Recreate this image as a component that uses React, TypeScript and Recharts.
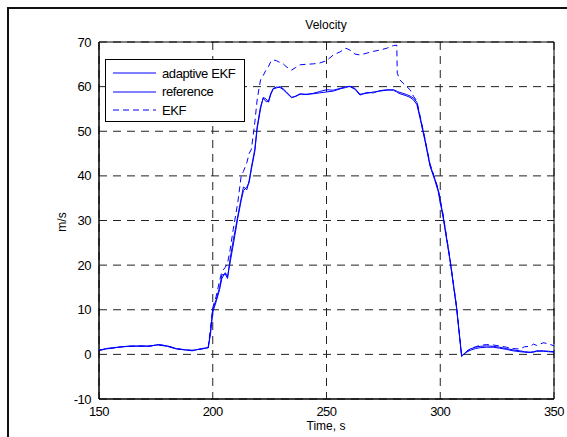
import React from 'react'
import {
  LineChart, Line, XAxis, YAxis, CartesianGrid, ReferenceArea,
} from 'recharts'

const time = [
  150, 153, 156, 160, 164, 168, 172, 176, 180, 184, 188, 191, 195, 198, 199, 200,
  201.5, 203, 204, 205.5, 206.5, 207.5, 209, 211, 212.5, 213.5, 215, 216, 217, 218.5,
  219.5, 221, 222.2, 223.5, 224.5, 225.5, 226.6, 228, 229.6, 231, 232.2, 234.7, 236.5,
  238.4, 241, 244.2, 247, 250, 253, 256, 258.5, 260.3, 262.5, 264.7, 267.7, 270.6,
  273.5, 276.5, 279.4, 280.9, 281.1, 282.3, 283.6, 285.3, 286.7, 288.3, 289.7, 291.1,
  293.3, 295.5, 297.5, 299.1, 301.3, 304.3, 307.2, 309.4, 311.6, 313.1, 315.5, 317.5,
  320.4, 323.3, 326, 329.2, 332, 335, 337, 339.5, 341, 342.4, 345.3, 347.5, 350,
]

const referenceVel = [
  0.9, 1.2, 1.4, 1.7, 1.8, 1.9, 1.8, 2.2, 1.9, 1.3, 1.0, 0.9, 1.2, 1.5, 4.5, 9.5,
  11.8, 14.5, 17.0, 18.3, 17.4, 20.2, 24.5, 30.5, 34.5, 36.7, 37.5, 38.5, 41.5, 45.5,
  50.5, 55.0, 57.6, 57.2, 56.5, 58.2, 59.5, 59.7, 60.0, 59.5, 58.9, 57.6, 57.8,
  58.3, 58.3, 58.4, 58.6, 58.8, 59.0, 59.5, 59.8, 60.1, 59.6, 58.3, 58.5, 58.8,
  59.0, 59.2, 59.3, 59.0, 58.9, 58.7, 58.5, 58.2, 57.9, 57.4, 56.5, 53.3,
  48.1, 42.5, 39.5, 36.9, 31.0, 21.2, 10.5, -0.3, 0.5, 0.9, 1.3, 1.5,
  1.6, 1.6, 1.4, 1.1, 0.8, 0.6, 0.5, 0.4, 0.5, 0.7, 0.7, 0.6, 0.5,
]

const adaptiveVel = [
  0.9, 1.3, 1.5, 1.7, 1.9, 1.8, 1.9, 2.1, 1.8, 1.2, 1.0, 0.8, 1.3, 1.5, 5.0, 10.0,
  12.3, 15.0, 17.8, 18.0, 17.0, 21.0, 25.5, 31.0, 35.0, 37.5, 36.9, 39.0, 42.0, 46.0,
  51.0, 55.5, 57.4, 56.6, 56.8, 58.5, 59.6, 59.9, 59.8, 59.3, 58.7, 57.5, 57.9,
  58.4, 58.2, 58.5, 58.9, 59.3, 59.2, 59.6, 60.0, 60.0, 59.4, 58.1, 58.7, 58.6,
  59.1, 59.3, 59.2, 58.8, 58.7, 58.4, 58.2, 57.9, 57.6, 57.0, 56.0, 53.0,
  47.8, 42.2, 39.2, 36.5, 30.5, 21.0, 10.2, -0.5, 0.7, 1.2, 1.6, 1.8,
  1.9, 1.8, 1.6, 1.3, 1.0, 0.8, 0.6, 0.5, 0.6, 0.8, 0.8, 0.7, 0.6,
]

const ekfVel = [
  0.9, 1.2, 1.4, 1.7, 1.8, 1.9, 1.8, 2.2, 1.9, 1.3, 1.0, 0.9, 1.2, 1.5, 6.0, 10.5,
  13.0, 16.5, 18.5, 19.5, 20.5, 23.0, 28.0, 34.0, 40.0, 41.0, 43.0, 45.0, 46.0, 52.0,
  57.0, 61.5, 62.5, 63.8, 64.5, 65.6, 66.0, 65.8, 65.4, 65.1, 64.5, 63.7, 64.3,
  64.9, 65.0, 65.1, 65.3, 65.8, 67.1, 67.8, 68.6, 68.2, 67.3, 67.1, 67.5, 67.9,
  68.2, 68.6, 69.2, 69.3, 63.0, 61.5, 60.8, 60.0, 59.3, 57.8, 56.8, 53.5,
  48.3, 42.7, 39.6, 37.0, 31.2, 21.4, 10.7, -0.2, 0.6, 1.2, 1.7, 2.0,
  2.2, 2.1, 1.9, 1.6, 1.3, 1.2, 1.7, 1.8, 2.3, 2.0, 2.6, 2.4, 1.9,
]

const xTicks = [150, 200, 250, 300, 350]
const yTicks = [-10, 0, 10, 20, 30, 40, 50, 60, 70]

const seriesNames = ['adaptive EKF', 'reference', 'EKF']

const data = time.map((t, i) => ({
  t,
  adaptive: adaptiveVel[i],
  reference: referenceVel[i],
  ekf: ekfVel[i],
}))

const font = '"Liberation Sans", Arial, sans-serif'
const blue = '#0000ff'

function LegendBox() {
  const dashes = [undefined, undefined, '6 4']
  return (
    <div style={{
      position: 'absolute', left: 105, top: 59,
      border: '1px solid #000', background: '#fff', width: 140, height: 63,
      boxSizing: 'border-box', padding: '4px 0 0 6px', fontFamily: font, fontSize: 13,
    }}>
      {seriesNames.map((name, i) => (
        <div key={name} style={{ display: 'flex', alignItems: 'center', height: 18.5 }}>
          <svg width={46} height={4} style={{ marginRight: 4 }}>
            <line x1={1} y1={2} x2={44} y2={2} stroke={blue} strokeWidth={1} strokeDasharray={dashes[i]} />
          </svg>
          <span style={{ letterSpacing: -0.4 }}>{name}</span>
        </div>
      ))}
    </div>
  )
}

export default function App() {
  return (
    <div style={{ position: 'fixed', left: 0, top: 0, width: 567, height: 437, overflow: 'hidden', background: '#fff', fontFamily: font }}>
      <div style={{ position: 'absolute', left: 7, top: 7, width: 700, height: 600, borderTop: '2px solid #111', borderLeft: '2px solid #111' }} />
      <LineChart
        width={567}
        height={437}
        data={data}
        margin={{ top: 42, right: 13, left: 59, bottom: 8 }}
        style={{ position: 'absolute', left: 0, top: 0 }}
      >
        <CartesianGrid stroke="#222" strokeDasharray="8 6" />
        <XAxis
          dataKey="t"
          type="number"
          domain={[150, 350]}
          ticks={xTicks}
          tickLine={false}
          axisLine={{ stroke: '#000' }}
          tick={{ fontSize: 13, fill: '#000', fontFamily: font, letterSpacing: -0.5 }}
          height={30}
          allowDataOverflow
        />
        <YAxis
          type="number"
          domain={[-10, 70]}
          ticks={yTicks}
          tickLine={false}
          axisLine={{ stroke: '#000' }}
          tick={{ fontSize: 13, fill: '#000', fontFamily: font, letterSpacing: -0.5 }}
          width={40}
          allowDataOverflow
        />
        <ReferenceArea x1={150} x2={350} y1={-10} y2={70} fill="none" stroke="#000" strokeWidth={1} ifOverflow="visible" />
        <Line dataKey="reference" name={seriesNames[1]} stroke={blue} strokeWidth={1} dot={false} isAnimationActive={false} />
        <Line dataKey="adaptive" name={seriesNames[0]} stroke={blue} strokeWidth={1} dot={false} isAnimationActive={false} />
        <Line dataKey="ekf" name={seriesNames[2]} stroke={blue} strokeWidth={1} strokeDasharray="6 4" dot={false} isAnimationActive={false} />
      </LineChart>
      <LegendBox />
      <div style={{ position: 'absolute', left: 226, width: 200, top: 18, textAlign: 'center', fontSize: 12 }}>Velocity</div>
      <div style={{ position: 'absolute', left: 276, width: 100, top: 419, textAlign: 'center', fontSize: 12 }}>Time, s</div>
      <div style={{ position: 'absolute', left: 62, top: 222, fontSize: 12, transform: 'translate(-50%, -50%) rotate(-90deg)' }}>m/s</div>
    </div>
  )
}
